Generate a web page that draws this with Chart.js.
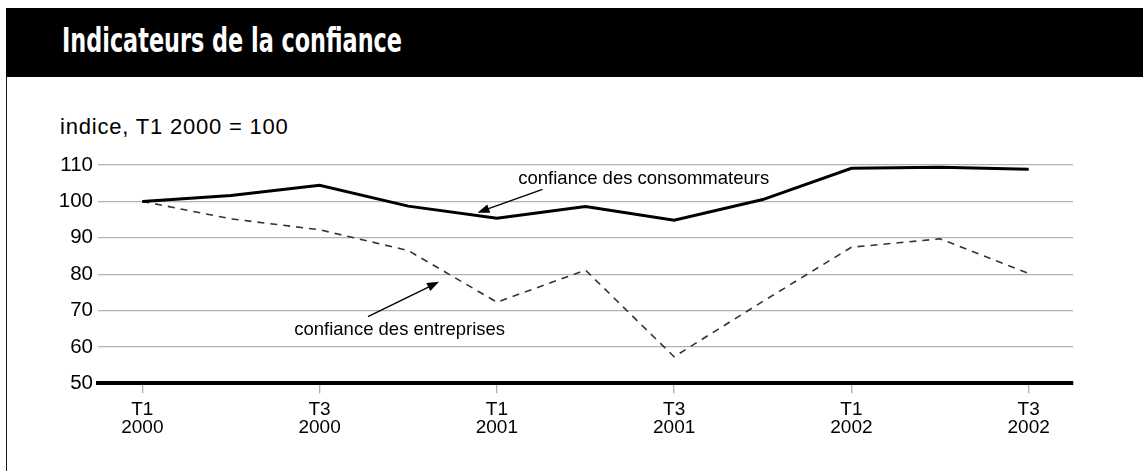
<!DOCTYPE html>
<html>
<head>
<meta charset="utf-8">
<script src="https://cdn.jsdelivr.net/npm/chart.js@4.4.1/dist/chart.umd.min.js"></script>
<style>
  html, body { margin: 0; padding: 0; background: #fff; width: 1143px; height: 471px; overflow: hidden; }
  #frame { position: absolute; left: 6px; top: 8px; width: 1137px; height: 463px; border-left: 1.5px solid #1a1a1a; box-sizing: border-box; }
  #bar { position: absolute; left: 6px; top: 8px; width: 1137px; height: 69px; background: #000; }
  #title { position: absolute; left: 62px; top: 24px; color: #fff; white-space: nowrap;
           font: bold 33px/33px "Liberation Sans Narrow", "DejaVu Sans Condensed", "Liberation Sans", sans-serif;
           transform-origin: left center; }
  #ytitle { position: absolute; left: 60px; top: 116px; color: #000; white-space: nowrap;
            font: 22px/22px "Liberation Sans", Arial, sans-serif; letter-spacing: 0.8px; }
  #wrap { position: absolute; left: 0; top: 0; width: 1143px; height: 471px; }
</style>
</head>
<body>
<div id="frame"></div>
<div id="bar"></div>
<div id="title">Indicateurs de la confiance</div>
<div id="ytitle">indice, T1 2000 = 100</div>
<div id="wrap"><canvas id="c" width="1143" height="471"></canvas></div>
<script>
// Quarterly confidence indices, T1 2000 = 100
const quarters = ['T1', 'T2', 'T3', 'T4', 'T1', 'T2', 'T3', 'T4', 'T1', 'T2', 'T3'];
const years    = ['2000', '2000', '2000', '2000', '2001', '2001', '2001', '2001', '2002', '2002', '2002'];
const consommateurs = [100, 101.6, 104.4, 98.7, 95.4, 98.6, 94.8, 100.5, 109.1, 109.4, 108.8];
const entreprises   = [100, 95.2, 92.2, 86.5, 72.3, 81.1, 57.3, 72.5, 87.4, 89.7, 80.2];
const seriesNames = ['confiance des consommateurs', 'confiance des entreprises'];
const yTicks = [50, 60, 70, 80, 90, 100, 110];

const categories = quarters.map((q, i) => [q, years[i]]);

// Fit the condensed title to its bar
(function () {
  const t = document.getElementById('title');
  const w = t.getBoundingClientRect().width;
  t.style.transform = 'scaleX(' + (340 / w) + ')';
})();

// Callout labels with arrows, placed in data space (category index, index value)
const callouts = {
  id: 'callouts',
  afterDatasetsDraw(chart, args, opts) {
    const { ctx, scales: { x, y } } = chart;
    ctx.save();
    ctx.font = opts.font;
    ctx.fillStyle = '#000';
    ctx.strokeStyle = '#000';
    ctx.textAlign = 'center';
    ctx.textBaseline = 'middle';
    opts.items.forEach(it => {
      ctx.fillText(seriesNames[it.series], x.getPixelForValue(it.text[0]), y.getPixelForValue(it.text[1]));
      const x1 = x.getPixelForValue(it.from[0]), y1 = y.getPixelForValue(it.from[1]);
      const x2 = x.getPixelForValue(it.to[0]),   y2 = y.getPixelForValue(it.to[1]);
      const a = Math.atan2(y2 - y1, x2 - x1);
      const hl = 12, hw = 4.5;
      ctx.lineWidth = 1.4;
      ctx.beginPath();
      ctx.moveTo(x1, y1);
      ctx.lineTo(x2 - Math.cos(a) * hl * 0.8, y2 - Math.sin(a) * hl * 0.8);
      ctx.stroke();
      ctx.beginPath();
      ctx.moveTo(x2, y2);
      ctx.lineTo(x2 - Math.cos(a) * hl - Math.sin(a) * hw, y2 - Math.sin(a) * hl + Math.cos(a) * hw);
      ctx.lineTo(x2 - Math.cos(a) * hl + Math.sin(a) * hw, y2 - Math.sin(a) * hl - Math.cos(a) * hw);
      ctx.closePath();
      ctx.fill();
    });
    ctx.restore();
  }
};

new Chart(document.getElementById('c'), {
  type: 'line',
  data: {
    labels: categories,
    datasets: [
      { label: seriesNames[0], data: consommateurs, borderColor: '#000', borderWidth: 3,
        pointRadius: 0, tension: 0, fill: false, borderJoinStyle: 'miter' },
      { label: seriesNames[1], data: entreprises, borderColor: '#333', borderWidth: 1.6,
        borderDash: [7, 6], pointRadius: 0, tension: 0, fill: false }
    ]
  },
  options: {
    responsive: false,
    animation: false,
    devicePixelRatio: 1,
    layout: { padding: { left: 0, right: 70, top: 165, bottom: 0 } },
    plugins: {
      legend: { display: false },
      tooltip: { enabled: false },
      callouts: {
        font: '18.5px "Liberation Sans", Arial, sans-serif',
        items: [
          { series: 0, text: [5.657, 106.15], from: [4.515, 103.3], to: [3.781, 96.9] },
          { series: 1, text: [2.903, 64.65], from: [2.546, 68.3], to: [3.348, 77.9] }
        ]
      }
    },
    scales: {
      x: {
        offset: true,
        afterFit(s) { s.height = 87.7; },
        border: { display: true, color: '#000', width: 4 },
        grid: {
          offset: false, drawOnChartArea: false, drawTicks: true, tickLength: 10, lineWidth: 1.3,
          color: c => (c.index % 2 === 0 ? '#b0b0b0' : 'rgba(0,0,0,0)')
        },
        ticks: {
          autoSkip: false, maxRotation: 0, minRotation: 0, padding: 7, color: '#000',
          font: { family: '"Liberation Sans", Arial, sans-serif', size: 19, lineHeight: 0.95 },
          callback: (v, i) => (i % 2 === 0 ? categories[i] : '')
        }
      },
      y: {
        min: yTicks[0], max: yTicks[yTicks.length - 1],
        afterFit(s) { s.width = 98; },
        afterBuildTicks(s) { s.ticks = yTicks.map(v => ({ value: v })); },
        border: { display: false },
        grid: {
          drawTicks: false, lineWidth: 1.3,
          color: c => (c.tick && c.tick.value === yTicks[0] ? 'rgba(0,0,0,0)' : '#b3b3b3')
        },
        ticks: {
          padding: 5, color: '#000',
          font: { family: '"Liberation Sans", Arial, sans-serif', size: 20.5 }
        }
      }
    }
  },
  plugins: [callouts]
});
</script>
</body>
</html>
